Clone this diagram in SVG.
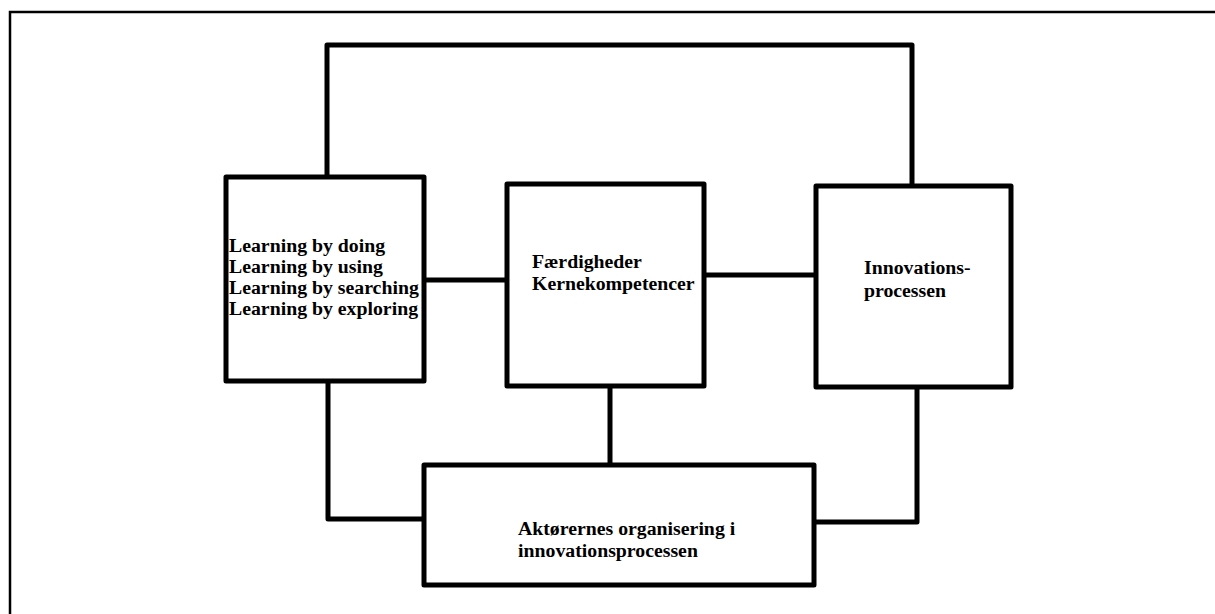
<svg xmlns="http://www.w3.org/2000/svg" width="1215" height="614" viewBox="0 0 1215 614">
<style>
.box{fill:#fff;stroke:#000;stroke-width:5;stroke-linejoin:round}
.conn{fill:none;stroke:#000;stroke-width:5;stroke-linejoin:round}
.frame{fill:none;stroke:#000;stroke-width:2.5}
text{font-family:"Liberation Serif","Times New Roman",serif;font-weight:bold;font-size:19.8px;fill:#000}
</style>
<rect width="1215" height="614" fill="#fff"/>
<path class="frame" d="M10,614 V12 H1215"/>
<g id="connectors">
<path class="conn" d="M327,177 V45 H912 V186"/>
<path class="conn" d="M424,280 H507"/>
<path class="conn" d="M704,275 H816"/>
<path class="conn" d="M610,386 V465"/>
<path class="conn" d="M328,381 V519 H424"/>
<path class="conn" d="M917,387 V522 H814"/>
</g>
<g id="learning">
<rect class="box" x="226" y="177" width="198" height="204"/>
<text x="229" y="252">Learning by doing</text>
<text x="229" y="273">Learning by using</text>
<text x="229" y="294">Learning by searching</text>
<text x="229" y="315">Learning by exploring</text>
</g>
<g id="faerdigheder">
<rect class="box" x="507" y="184" width="197" height="202"/>
<text x="532" y="268">Færdigheder</text>
<text x="532" y="290">Kernekompetencer</text>
</g>
<g id="innovation">
<rect class="box" x="816" y="186" width="195" height="201"/>
<text x="864" y="274">Innovations-</text>
<text x="864" y="297">processen</text>
</g>
<g id="aktoerer">
<rect class="box" x="424" y="465" width="390" height="120"/>
<text x="518" y="535">Aktørernes organisering i</text>
<text x="518" y="557">innovationsprocessen</text>
</g>
</svg>
